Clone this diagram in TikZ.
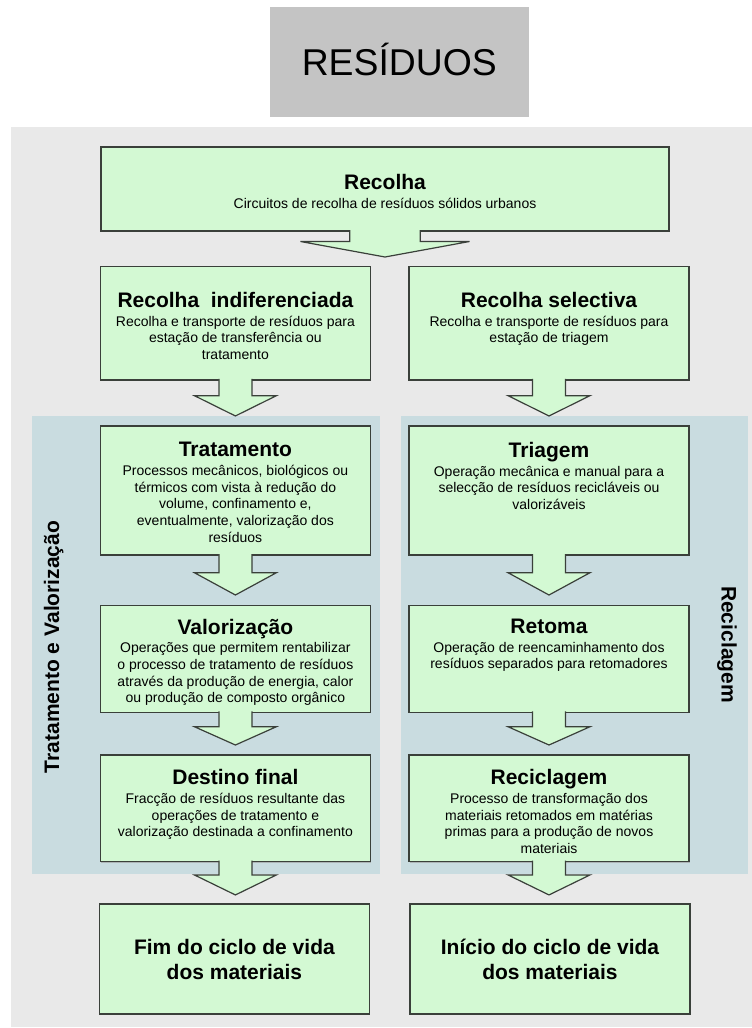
\documentclass[tikz,border=0pt]{standalone}
\usepackage{fontspec}
\setmainfont{Liberation Sans}
\usepackage{tikz}
\usetikzlibrary{positioning,calc,shadows}
\definecolor{RSGreen}{HTML}{D3F9D3}
\definecolor{RSEdge}{HTML}{3A403A}
\definecolor{RSPanel}{HTML}{E9E9E9}
\definecolor{RSBlue}{HTML}{C9DCE0}
\definecolor{RSTitle}{HTML}{C4C4C4}
\newcommand{\ttl}[1]{{\fontsize{15.75}{18}\selectfont\bfseries #1}}
% block arrow pointing down out of a box: node, stem half, head half, stem length, head length
\newcommand{\downblock}[5]{%
  \filldraw[blockarr] ($(#1.south)+(-#2,-1)$) -- ($(#1.south)+(-#2,#4)$)
    -- ($(#1.south)+(-#3,#4)$) -- ($(#1.south)+(0,#4+#5)$)
    -- ($(#1.south)+(#3,#4)$) -- ($(#1.south)+(#2,#4)$)
    -- ($(#1.south)+(#2,-1)$);}

\begin{document}
\begin{tikzpicture}[x=0.75pt,y=-0.75pt,
  box/.style={draw=RSEdge,line width=0.9pt,fill=RSGreen,inner sep=0pt,outer sep=0pt,
    drop shadow={shadow xshift=0.8pt,shadow yshift=-0.8pt,fill=black!40,opacity=0.6}},
  colL/.style={minimum width=202.5pt},
  colR/.style={minimum width=210pt},
  desc/.style={align=center,inner sep=0pt,font=\fontsize{10.5}{12.5}\selectfont},
  endtext/.style={align=center,font=\fontsize{15.75}{18.75}\selectfont\bfseries},
  sidelbl/.style={inner sep=0pt,font=\fontsize{15.75}{18}\selectfont\bfseries},
  titlebox/.style={fill=RSTitle,minimum width=194.6pt,minimum height=82.5pt,inner sep=0pt,
    text height=19.6pt,text depth=0pt,font=\fontsize{28}{32}\selectfont},
  blockarr/.style={fill=RSGreen,draw=RSEdge,line width=0.9pt}
]
\useasboundingbox (0,0) rectangle (752,1028);

% panels
\fill[RSPanel] (10.5,127) rectangle (752,1027);
\fill[RSBlue] (31.7,416) rectangle (380,874);
\fill[RSBlue] (400.5,416) rectangle (748,874);

\node[titlebox] (titulo) at (399.25,62) {RESÍDUOS};

% boxes
\node[box,minimum width=426pt,minimum height=63pt] (recolha) at (385,189) {};
\node[box,colL,minimum height=85pt] (indif) at (235.4,323.3) {};
\node[box,colR,minimum height=85pt] (selec) at (549,323.3) {};
\node[box,colL,minimum height=96.75pt] (trat) at (235.4,490.5) {};
\node[box,colR,minimum height=96.75pt] (triag) at (549,490.5) {};
\node[box,colL,minimum height=80.25pt] (valor) at (235.4,658.8) {};
\node[box,colR,minimum height=80.25pt] (retoma) at (549,658.8) {};
\node[box,colL,minimum height=80pt] (destino) at (235.4,808.3) {};
\node[box,colR,minimum height=80pt] (recicl) at (549,808.3) {};
\node[box,colL,minimum height=82.5pt,endtext] (fim) at (234.4,959) {Fim do ciclo de vida\\dos materiais};
\node[box,colR,minimum height=82.5pt,endtext] (inicio) at (550,959) {Início do ciclo de vida\\dos materiais};

% texts
\node[desc,below=20.6pt of recolha.north] (recolhaT) {\ttl{Recolha}\\[1.5pt]Circuitos de recolha de resíduos sólidos urbanos};
\node[desc,below=19.1pt of indif.north] (indifT) {\ttl{Recolha\ \ indiferenciada}\\[1.5pt]Recolha e transporte de resíduos para\\estação de transferência ou\\tratamento};
\node[desc,below=19.1pt of selec.north] (selecT) {\ttl{Recolha selectiva}\\[1.5pt]Recolha e transporte de resíduos para\\estação de triagem};
\node[desc,below=12.1pt of trat.north] (tratT) {\ttl{Tratamento}\\[1.5pt]Processos mecânicos, biológicos ou\\térmicos com vista à redução do\\volume, confinamento e,\\eventualmente, valorização dos\\resíduos};
\node[desc,below=12.1pt of triag.north] (triagT) {\ttl{Triagem}\\[1.5pt]Operação mecânica e manual para a\\selecção de resíduos recicláveis ou\\valorizáveis};
\node[desc,below=10.1pt of valor.north] (valorT) {\ttl{Valorização}\\[1.5pt]Operações que permitem rentabilizar\\o processo de tratamento de resíduos\\através da produção de energia, calor\\ou produção de composto orgânico};
\node[desc,below=10.1pt of retoma.north] (retomaT) {\ttl{Retoma}\\[1.5pt]Operação de reencaminhamento dos\\resíduos separados para retomadores};
\node[desc,below=10.9pt of destino.north] (destinoT) {\ttl{Destino final}\\[1.5pt]Fracção de resíduos resultante das\\operações de tratamento e\\valorização destinada a confinamento};
\node[desc,below=10.9pt of recicl.north] (reciclT) {\ttl{Reciclagem}\\[1.5pt]Processo de transformação dos\\materiais retomados em matérias\\primas para a produção de novos\\materiais};

% side labels
\node[sidelbl,rotate=90,anchor=base] (lblTV) at (59,647) {Tratamento e Valorização};
\node[sidelbl,rotate=-90,anchor=base] (lblRec) at (721.5,644.5) {Reciclagem};

% block arrows
\downblock{recolha}{35.3}{84.5}{10.5}{15.5}
\foreach \n/\s/\h in {indif/15.7/20.3,selec/15.7/20.3,trat/17.7/22.3,triag/17.7/22.3,
                      valor/14.4/18.3,retoma/14.4/18.3,destino/13.3/20,recicl/13.3/20}
  \downblock{\n}{16.5}{41}{\s}{\h};
\end{tikzpicture}
\end{document}
